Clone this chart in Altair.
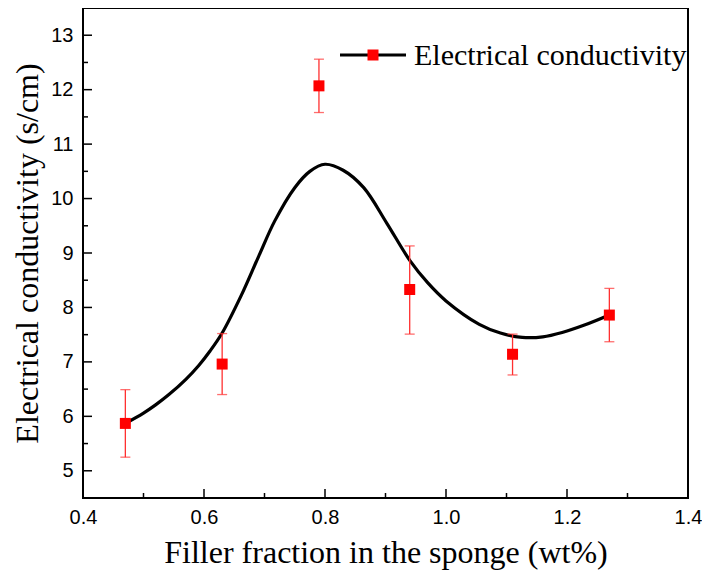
import altair as alt
import pandas as pd

# measured points
px = [0.47, 0.63, 0.79, 0.94, 1.11, 1.27]
py = [5.87, 6.96, 12.07, 8.33, 7.14, 7.86]
plo = [5.25, 6.40, 11.58, 7.51, 6.76, 7.37]
phi = [6.49, 7.52, 12.56, 9.13, 7.51, 8.35]

# fitted curve
cx = [0.47, 0.50, 0.52, 0.542, 0.57, 0.591, 0.61, 0.63, 0.662, 0.690, 0.717, 0.750, 0.775, 0.80,
      0.830, 0.864, 0.902, 0.941, 0.97, 1.00, 1.055, 1.09, 1.126, 1.16, 1.192, 1.23, 1.27]
cy = [5.87, 6.06, 6.21, 6.40, 6.68, 6.93, 7.20, 7.53, 8.23, 8.93, 9.59, 10.20, 10.50, 10.63,
      10.52, 10.20, 9.55, 8.85, 8.45, 8.12, 7.69, 7.53, 7.45, 7.46, 7.54, 7.68, 7.86]

x_major = [0.4, 0.6, 0.8, 1.0, 1.2, 1.4]
x_minor = [0.5, 0.7, 0.9, 1.1, 1.3]
y_major = [5, 6, 7, 8, 9, 10, 11, 12, 13]
y_minor = [5.5, 6.5, 7.5, 8.5, 9.5, 10.5, 11.5, 12.5]

legend_label = "Electrical conductivity"

W, H = 605, 490
xs = alt.Scale(domain=[0.4, 1.4], nice=False, zero=False)
ys = alt.Scale(domain=[4.5, 13.5], nice=False, zero=False)

pts = pd.DataFrame({"x": px, "y": py, "lo": plo, "hi": phi})
curve = pd.DataFrame({"x": cx, "y": cy})

SERIF = "Liberation Serif"
SANS = "Liberation Sans"

xaxis = alt.Axis(values=x_major, format=".1f", ticks=False, tickSize=0, domain=False, grid=False,
                 labelFlush=False, labelOverlap=False,
                 labelFont=SANS, labelFontSize=20, labelColor="black", labelPadding=9,
                 title="Filler fraction in the sponge (wt%)", titleFont=SERIF, titleFontSize=32,
                 titleFontWeight="normal", titleColor="black", titleY=64, titleBaseline="alphabetic")
yaxis = alt.Axis(values=y_major, format="d", ticks=False, tickSize=0, domain=False, grid=False,
                 labelFlush=False, labelOverlap=False,
                 labelFont=SANS, labelFontSize=20, labelColor="black", labelPadding=10,
                 title="Electrical conductivity (s/cm)", titleFont=SERIF, titleFontSize=32,
                 titleFontWeight="normal", titleColor="black", titleX=-46, titleBaseline="alphabetic")

base = alt.Chart(curve)

line = base.mark_line(color="black", strokeWidth=3.2, interpolate="catmull-rom").encode(
    x=alt.X("x:Q", scale=xs, axis=xaxis),
    y=alt.Y("y:Q", scale=ys, axis=yaxis),
)

ERR = "#ff3030"
err = alt.Chart(pts).mark_rule(color=ERR, strokeWidth=1.3).encode(
    x=alt.X("x:Q", scale=xs), y=alt.Y("lo:Q", scale=ys), y2="hi:Q")
cap_lo = alt.Chart(pts).mark_tick(color=ERR, orient="horizontal", size=10, thickness=1.3).encode(
    x=alt.X("x:Q", scale=xs), y=alt.Y("lo:Q", scale=ys))
cap_hi = alt.Chart(pts).mark_tick(color=ERR, orient="horizontal", size=10, thickness=1.3).encode(
    x=alt.X("x:Q", scale=xs), y=alt.Y("hi:Q", scale=ys))
marks = alt.Chart(pts).mark_point(shape="square", filled=True, color="#ff0000", size=121, opacity=1).encode(
    x=alt.X("x:Q", scale=xs), y=alt.Y("y:Q", scale=ys))

# inward axis ticks
ymaj = alt.Chart(pd.DataFrame({"v": y_major})).mark_rule(color="black", strokeWidth=1.5).encode(
    y=alt.Y("v:Q", scale=ys), x=alt.value(0), x2=alt.value(9))
ymin = alt.Chart(pd.DataFrame({"v": y_minor})).mark_rule(color="black", strokeWidth=1.5).encode(
    y=alt.Y("v:Q", scale=ys), x=alt.value(0), x2=alt.value(5))
xmaj = alt.Chart(pd.DataFrame({"v": x_major})).mark_rule(color="black", strokeWidth=1.5).encode(
    x=alt.X("v:Q", scale=xs), y=alt.value(H), y2=alt.value(H - 9))
xmin = alt.Chart(pd.DataFrame({"v": x_minor})).mark_rule(color="black", strokeWidth=1.5).encode(
    x=alt.X("v:Q", scale=xs), y=alt.value(H), y2=alt.value(H - 5))

# frame
frame_df = pd.DataFrame({"f": [0]})
frame = alt.Chart(frame_df).mark_rect(fill="white", fillOpacity=0, stroke="black", strokeWidth=2).encode(
    x=alt.value(0), x2=alt.value(W), y=alt.value(0), y2=alt.value(H))

# legend
leg = pd.DataFrame({"label": [legend_label]})
leg_line = alt.Chart(leg).mark_rule(color="black", strokeWidth=3.2).encode(
    x=alt.value(257), x2=alt.value(323), y=alt.value(47))
leg_pt = alt.Chart(leg).mark_point(shape="square", filled=True, color="#ff0000", size=121, opacity=1).encode(
    x=alt.value(290), y=alt.value(47))
leg_txt = alt.Chart(leg).mark_text(font=SERIF, fontSize=30, align="left", baseline="alphabetic",
                                   color="black").encode(
    x=alt.value(331), y=alt.value(57), text="label:N")

chart = alt.layer(line, err, cap_lo, cap_hi, marks, ymaj, ymin, xmaj, xmin, frame,
                  leg_line, leg_pt, leg_txt).properties(
    width=W, height=H,
    autosize=alt.AutoSizeParams(type="none"),
    padding={"left": 75, "top": 0, "right": 14, "bottom": 72},
).configure_view(strokeWidth=0).configure(background="white")

chart.save("out.html", embed_options={"renderer": "svg", "actions": False})
